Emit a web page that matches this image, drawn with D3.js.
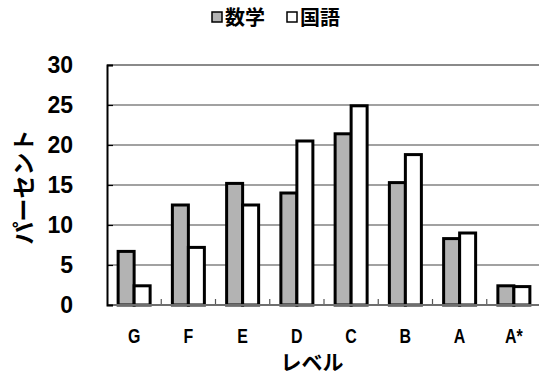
<!DOCTYPE html>
<html>
<head>
<meta charset="utf-8">
<script src="https://cdn.jsdelivr.net/npm/d3@7"></script>
<style>
  html, body { margin: 0; padding: 0; background: #fff; }
  svg { display: block; }
</style>
</head>
<body>
<svg id="chart" width="539" height="376"></svg>
<script>
// Levels and the share of students (%) at each level
const levels = ["G", "F", "E", "D", "C", "B", "A", "A*"];
const mathValues = [6.7, 12.5, 15.2, 14.0, 21.4, 15.3, 8.3, 2.4];
const japaneseValues = [2.4, 7.2, 12.5, 20.5, 24.9, 18.8, 9.0, 2.3];
const seriesNames = ["数学", "国語"];
const yTicks = [0, 5, 10, 15, 20, 25, 30];

const svg = d3.select("#chart");
const margin = { left: 107, right: -2, top: 65, bottom: 71 };
const W = 539, H = 376;
const jpFont = "'Noto Sans CJK JP', sans-serif";
const numFont = "'Liberation Sans', Arial, sans-serif";

const x = d3.scaleBand()
  .domain(levels)
  .range([margin.left, W - margin.right])
  .paddingInner(0).paddingOuter(0);

const y = d3.scaleLinear()
  .domain([0, 30])
  .range([H - margin.bottom, margin.top]);

const sub = d3.scaleBand()
  .domain([0, 1])
  .range([0, 32]);

const fills = ["#b3b3b3", "#ffffff"];

// Horizontal gridlines
svg.append("g")
  .selectAll("line")
  .data(yTicks.filter(t => t > 0 && t < 30))
  .join("line")
  .attr("x1", margin.left).attr("x2", W)
  .attr("y1", d => y(d)).attr("y2", d => y(d))
  .attr("stroke", "#444").attr("stroke-width", 1.2);

// Top border of the plot
svg.append("line")
  .attr("x1", margin.left).attr("x2", W)
  .attr("y1", y(30)).attr("y2", y(30))
  .attr("stroke", "#8a8a8a").attr("stroke-width", 2);

// Bars
const data = levels.map((lv, i) => ({ level: lv, vals: [mathValues[i], japaneseValues[i]] }));
const groups = svg.append("g").selectAll("g")
  .data(data)
  .join("g")
  .attr("transform", d => `translate(${x(d.level) + x.bandwidth() / 2 - 16},0)`);

groups.selectAll("rect")
  .data(d => d.vals.map((v, k) => ({ v, k })))
  .join("rect")
  .attr("x", d => sub(d.k))
  .attr("width", sub.bandwidth())
  .attr("y", d => y(d.v))
  .attr("height", d => y(0) - y(d.v))
  .attr("fill", d => fills[d.k])
  .attr("stroke", "#000")
  .attr("stroke-width", 3);

// Bottom axis with inward ticks at band boundaries
const xBoundaries = levels.slice(1).map(l => x(l));
svg.append("g").selectAll("line")
  .data(xBoundaries)
  .join("line")
  .attr("x1", d => d).attr("x2", d => d)
  .attr("y1", y(0)).attr("y2", y(0) - 6)
  .attr("stroke", "#555").attr("stroke-width", 1.2);

svg.append("line")
  .attr("x1", margin.left).attr("x2", W)
  .attr("y1", y(0)).attr("y2", y(0))
  .attr("stroke", "#6e6e6e").attr("stroke-width", 2);

// Left axis
const yAxis = d3.axisLeft(y).tickValues(yTicks).tickSize(-6).tickPadding(34);
const yg = svg.append("g")
  .attr("transform", `translate(${margin.left},0)`)
  .call(yAxis);
yg.select(".domain").attr("stroke", "#000").attr("stroke-width", 2);
yg.selectAll(".tick line").attr("stroke", "#000").attr("stroke-width", 1.2);
yg.selectAll(".tick text")
  .attr("font-family", numFont)
  .attr("font-weight", "bold")
  .attr("font-size", 23)
  .attr("fill", "#000");

// Category labels, condensed
const xAxis = d3.axisBottom(x).tickSize(0).tickPadding(23);
const xg = svg.append("g")
  .attr("transform", `translate(0,${y(0)})`)
  .call(xAxis);
xg.select(".domain").remove();
xg.selectAll(".tick text")
  .attr("font-family", numFont)
  .attr("font-weight", "bold")
  .attr("font-size", 21)
  .attr("transform", "scale(0.76,1)")
  .attr("fill", "#000");

// Axis titles
svg.append("text")
  .attr("x", 312).attr("y", 370)
  .attr("text-anchor", "middle")
  .attr("font-family", jpFont)
  .attr("font-weight", "bold")
  .attr("font-size", 21)
  .text("レベル");

svg.append("text")
  .attr("transform", `translate(32,187) rotate(-90)`)
  .attr("text-anchor", "middle")
  .attr("font-family", jpFont)
  .attr("font-weight", "bold")
  .attr("font-size", 23)
  .text("パーセント");

// Legend
const legend = svg.append("g").attr("transform", "translate(212,9)");
const legendItems = [
  { name: seriesNames[0], fill: fills[0], dx: 0 },
  { name: seriesNames[1], fill: fills[1], dx: 75 }
];
const li = legend.selectAll("g").data(legendItems).join("g")
  .attr("transform", d => `translate(${d.dx},0)`);
li.append("rect")
  .attr("x", 0).attr("y", 3).attr("width", 10).attr("height", 10)
  .attr("fill", d => d.fill).attr("stroke", "#000").attr("stroke-width", 1.5);
li.append("text")
  .attr("x", 13).attr("y", 16)
  .attr("font-family", jpFont)
  .attr("font-weight", "bold")
  .attr("font-size", 20)
  .text(d => d.name);
</script>
</body>
</html>
